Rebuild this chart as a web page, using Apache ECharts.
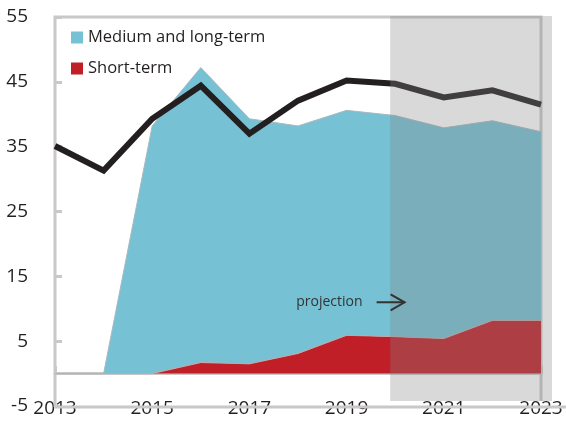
<!DOCTYPE html>
<html>
<head>
<meta charset="utf-8">
<script src="https://cdn.jsdelivr.net/npm/echarts@6/dist/echarts.min.js"></script>
<style>
html, body { margin: 0; padding: 0; background: #fff; }
#chart { width: 566px; height: 423px; }
</style>
</head>
<body>
<div id="chart"></div>
<script>
// data
const years = ["2013", "2014", "2015", "2016", "2017", "2018", "2019", "2020", "2021", "2022", "2023"];
const shortTerm = [0, 0, 0, 1.7, 1.5, 3.1, 5.9, 5.7, 5.4, 8.2, 8.2];
const mediumLong = [0, 0, 38.2, 45.5, 37.8, 35.1, 34.7, 34.1, 32.5, 30.8, 29.1];
const total = [35.1, 31.3, 39.3, 44.4, 37.0, 42.1, 45.2, 44.7, 42.6, 43.7, 41.5];
const projectionFrom = "2020";
const projectionLabel = "projection";

const font = "'Open Sans', 'Noto Sans', sans-serif";
const gray = "#c8c8c8";
const ink = "#231f20";

const myChart = echarts.init(document.getElementById("chart"));

const chartOption = {
  animation: false,
  textStyle: { fontFamily: font },
  grid: {
    left: 55, right: 25, top: 17, bottom: 17,
    outerBoundsMode: "none",
    containLabel: false,
    show: false
  },
  legend: {
    data: ["Medium and long-term", "Short-term"],
    orient: "vertical",
    left: 66, top: 24,
    itemWidth: 12, itemHeight: 12, itemGap: 14,
    icon: "rect",
    textStyle: { fontSize: 16.5, color: ink, fontFamily: font }
  },
  xAxis: {
    type: "category",
    data: years,
    boundaryGap: false,
    position: "bottom",
    offset: -33,
    axisLine: { show: true, onZero: false, lineStyle: { color: gray, width: 3 } },
    axisTick: { show: true, inside: true, interval: 1, length: 7, lineStyle: { color: gray, width: 3 } },
    axisLabel: { show: true, interval: 1, fontSize: 19, color: ink, margin: 26, fontFamily: font },
    splitLine: { show: false }
  },
  yAxis: {
    type: "value",
    min: -5, max: 55, interval: 10,
    axisLine: { show: false, onZero: false },
    axisTick: { show: true, inside: true, length: 7, lineStyle: { color: gray, width: 3 } },
    axisLabel: { fontSize: 19, color: ink, margin: 27, fontFamily: font },
    splitLine: { show: false }
  },
  series: [
    {
      name: "Short-term",
      type: "line",
      stack: "debt",
      data: shortTerm,
      symbol: "none",
      itemStyle: { color: "#c01f28" },
      lineStyle: { width: 1, color: "#c9a3a3" },
      areaStyle: { color: "#c01f28", opacity: 1 },
      z: 2
    },
    {
      name: "Medium and long-term",
      type: "line",
      stack: "debt",
      data: mediumLong,
      symbol: "none",
      itemStyle: { color: "#76c1d4" },
      lineStyle: { width: 1, color: "#a9b9be" },
      areaStyle: { color: "#76c1d4", opacity: 1 },
      z: 2
    },
    {
      name: "Total",
      type: "line",
      data: total,
      symbol: "none",
      lineStyle: { width: 6, color: ink, join: "miter" },
      itemStyle: { color: ink },
      z: 4
    }
  ]
};

myChart.setOption(chartOption);

// frame, projection shading and label, placed through the axes
const first = years[0];
const last = years[years.length - 1];
const tl = myChart.convertToPixel({ gridIndex: 0 }, [first, 55]);
const bl = myChart.convertToPixel({ gridIndex: 0 }, [first, -5]);
const tr = myChart.convertToPixel({ gridIndex: 0 }, [last, 55]);
const ps = myChart.convertToPixel({ gridIndex: 0 }, [projectionFrom, 55]);
const tp = myChart.convertToPixel({ gridIndex: 0 }, ["2019", 11]);
const ax = tp[0] + 30;
const W = myChart.getWidth();
const frame = { stroke: gray, lineWidth: 3, fill: null };
const shadeX = ps[0] - 5;

myChart.setOption({
  graphic: [
    { type: "polyline", z: 1, shape: { points: [[tl[0], bl[1] + 1], [tl[0], tl[1]], [tr[0], tl[1]], [tr[0], bl[1] - 5]] }, style: frame },
    { type: "line", z: 1, shape: { x1: bl[0], y1: bl[1] + 1, x2: W, y2: bl[1] + 1 }, style: frame },
    {
      type: "rect",
      z: 100,
      shape: { x: shadeX, y: ps[1] - 1, width: tr[0] - shadeX + 11, height: bl[1] - ps[1] - 4 },
      style: { fill: "#848484", opacity: 0.31 }
    },
    {
      type: "text",
      z: 101,
      x: tp[0] + 16, y: tp[1],
      style: {
        text: projectionLabel, fontSize: 14, fontFamily: font, fill: "#333",
        align: "right", verticalAlign: "middle"
      }
    },
    {
      type: "polyline",
      z: 101,
      shape: { points: [[ax, tp[1]], [ax + 28, tp[1]]] },
      style: { stroke: "#333", lineWidth: 2 }
    },
    {
      type: "polyline",
      z: 101,
      shape: { points: [[ax + 14, tp[1] - 8], [ax + 28, tp[1]], [ax + 14, tp[1] + 8]] },
      style: { stroke: "#333", lineWidth: 2, fill: null }
    }
  ]
});
</script>
</body>
</html>
